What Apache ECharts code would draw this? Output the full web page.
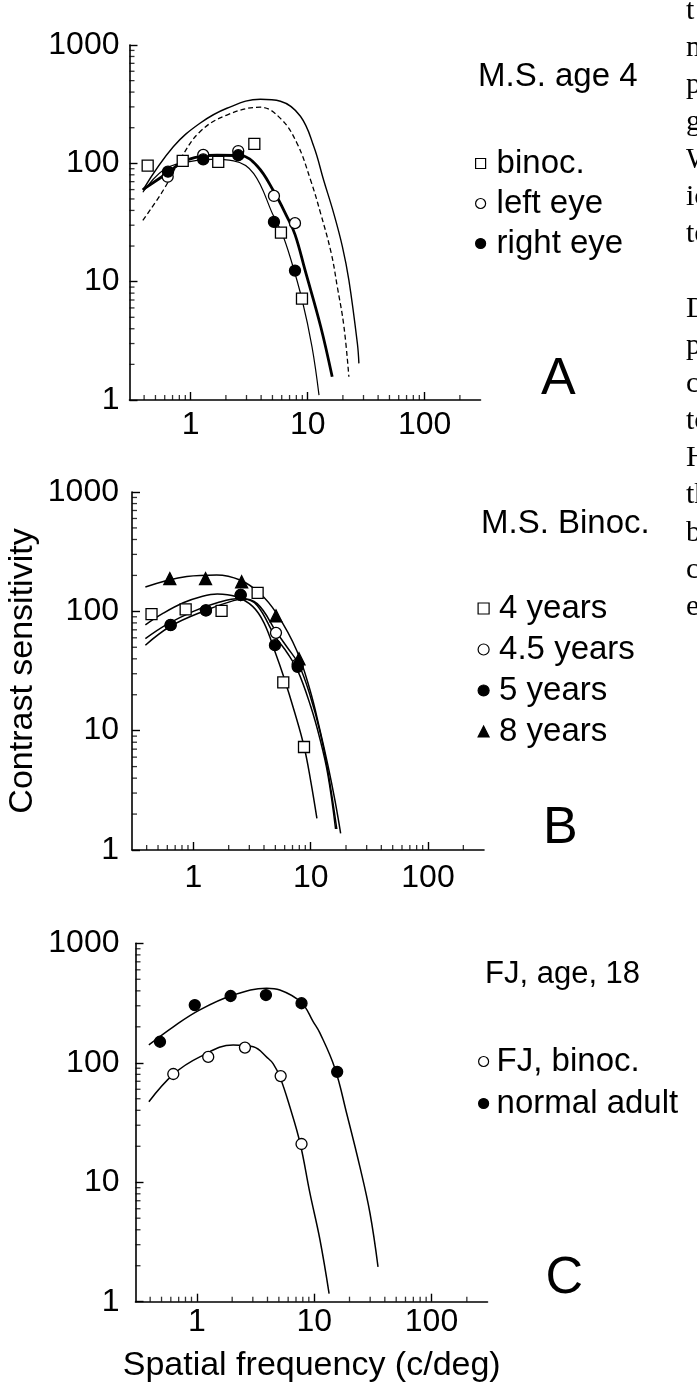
<!DOCTYPE html>
<html>
<head>
<meta charset="utf-8">
<title>Contrast sensitivity</title>
<script src="https://cdn.jsdelivr.net/npm/echarts@6/dist/echarts.min.js"></script>
<style>html,body{margin:0;padding:0;background:#fff;}</style>
</head>
<body>
<div id="main" style="width:697px;height:1391px;"></div>
<script>
// ---- data: [spatial frequency (c/deg), contrast sensitivity] ----
// panel A: M.S. age 4
var aBinoc = [[0.429, 95.6], [0.855, 105], [1.72, 103], [3.5, 146], [5.91, 26], [8.94, 7.2]];
var aLeftEye = [[0.636, 77], [1.28, 118], [2.55, 127], [5.15, 53], [7.79, 31.2]];
var aRightEye = [[0.64, 85], [1.28, 108], [2.55, 117], [5.15, 32], [7.79, 12.4]];
var aFitOuter = [[0.39, 59.5], [0.71, 138], [1.2, 218], [2.04, 292], [3.94, 348], [5.85, 335], [8.67, 250],
  [11.3, 138], [13.7, 72], [16.7, 37.8], [19.8, 19.8], [22.5, 10.3], [26.6, 3.0], [27.4, 2.04]];
var aFitDashed = [[0.39, 33], [0.585, 59.5], [0.81, 107], [1.2, 185], [2.04, 256], [3.94, 298], [5.85, 240],
  [8.1, 148], [10.6, 72], [12.9, 37.8], [15.9, 17.4], [17.9, 9.1], [20.4, 4.2], [22.5, 1.57]];
var aFitThick = [[0.39, 60], [0.625, 82], [0.93, 107], [1.68, 117], [2.66, 116], [3.7, 95], [5.13, 58],
  [6.6, 36], [7.8, 25], [9.5, 12.5], [12.9, 4.2], [16.2, 1.57]];
var aFitThin = [[0.39, 57], [0.585, 88], [0.9, 102], [1.5, 108], [2.33, 105], [3.46, 82], [5.1, 36],
  [6.0, 26], [7.1, 16], [8.97, 7.0], [10.9, 2.8], [12.5, 1.1]];

// panel B: M.S. Binoc.
var b4y = [[0.44, 94.7], [0.86, 104], [1.74, 101], [3.53, 143], [5.84, 25.4], [8.77, 7.3]];
var b45y = [[0.64, 77], [1.28, 102], [2.53, 137], [5.06, 66], [7.74, 36]];
var b5y = [[0.64, 76.6], [1.28, 102], [2.53, 137], [4.96, 52], [7.74, 34.3]];
var b8y = [[0.63, 188], [1.27, 188], [2.58, 177], [5.06, 91.6], [7.95, 40]];
var bFit4 = [[0.39, 77], [0.55, 96], [0.82, 118], [1.2, 134], [1.6, 140], [2.3, 133], [3.2, 110], [4.0, 80],
  [5.0, 45], [5.84, 29], [7.34, 14], [8.8, 7.3], [10, 3.8], [11.3, 1.84]];
var bFit45 = [[0.39, 59], [0.6, 78], [1.0, 100], [1.6, 118], [2.5, 128], [3.5, 116], [5.06, 68], [6.3, 50],
  [7.9, 36], [10, 19], [12, 9.8], [14, 4.6], [16.7, 1.5]];
var bFit5 = [[0.39, 52], [0.64, 75], [1.28, 102], [2.2, 123], [2.7, 126], [3.5, 112], [4.96, 62], [6.3, 45],
  [7.74, 32], [10, 16], [12, 8.5], [14, 4.3], [16.3, 1.5]];
var bFit8 = [[0.39, 160], [0.88, 196], [1.58, 202], [2.5, 183], [3.7, 141], [5.12, 96], [7.6, 47], [9.85, 22],
  [12, 10.1], [14.1, 5.0], [16.1, 2.6], [18, 1.38]];

// panel C: FJ, age 18
var cFJ = [[0.63, 80.5], [1.25, 112], [2.57, 134], [5.18, 77.4], [7.8, 20.9]];
var cNormal = [[0.485, 150], [0.96, 304], [1.94, 362], [3.88, 369], [7.8, 315], [15.7, 84]];
var cFitFJ = [[0.39, 47.2], [0.63, 80], [1.06, 112], [2.04, 141], [3.03, 136], [4.0, 110], [4.48, 98],
  [5.11, 76], [6.2, 42.8], [7.58, 21.3], [9.2, 8.1], [11.2, 3.3], [13.4, 1.17]];
var cFitNormal = [[0.39, 141], [0.63, 200], [1.06, 277], [2.04, 369], [3.93, 420], [5.1, 406], [7.8, 318],
  [9.8, 221], [11.2, 177], [15, 90], [18.9, 37.8], [24.5, 13.5], [29.9, 5.5], [35, 1.96]];

// ticks
var xTickLabels = ['1', '10', '100'];
var yTickLabels = ['1', '10', '100', '1000'];
var xMinorTicks = [0.4, 0.5, 0.6, 0.7, 0.8, 0.9, 2, 3, 4, 5, 6, 7, 8, 9, 20, 30, 40, 50, 60, 70, 80, 90, 200];
var yMinorTicks = [2, 3, 4, 5, 6, 7, 8, 9, 20, 30, 40, 50, 60, 70, 80, 90, 200, 300, 400, 500, 600, 700, 800, 900];

// text beside the figure (cut-off column of the page)
var marginLines = ['t', 'n', 'p', 'g', 'W', 'ic', 'te', '', 'D', 'p', 'c', 'to', 'H', 'th', 'b', 'c', 'e'];

var F = '"Liberation Sans", Arial, Helvetica, sans-serif';
var chart = echarts.init(document.getElementById('main'));

var grids = [
  {left: 129.5, top: 45, width: 351, height: 355},
  {left: 132, top: 492, width: 352, height: 358},
  {left: 135.5, top: 943.3, width: 352, height: 358.4}
];
var xLabelMargin = [9, 12, 4];
var yLabelMargin = [10, 13, 16];

function pickLabel(list) {
  return function (v) {
    var s = String(Math.round(v));
    return list.indexOf(s) >= 0 ? s : '';
  };
}

var xAxes = grids.map(function (g, i) {
  return {
    type: 'log', logBase: 10, gridIndex: i, min: 0.3, max: 300,
    axisLine: {onZero: false, lineStyle: {color: '#000', width: 1.6}},
    axisTick: {inside: true, length: 8, lineStyle: {color: '#000', width: 1.4}},
    axisLabel: {margin: xLabelMargin[i], fontSize: 32, fontFamily: F, color: '#000',
      showMinLabel: false, showMaxLabel: false, formatter: pickLabel(xTickLabels)},
    splitLine: {show: false}
  };
});
var yAxes = grids.map(function (g, i) {
  return {
    type: 'log', logBase: 10, gridIndex: i, min: 1, max: 1000,
    axisLine: {onZero: false, lineStyle: {color: '#000', width: 1.6}},
    axisTick: {inside: true, length: 8, lineStyle: {color: '#000', width: 1.4}},
    axisLabel: {margin: yLabelMargin[i], fontSize: 32, fontFamily: F, color: '#000',
      formatter: pickLabel(yTickLabels)},
    splitLine: {show: false}
  };
});

function curve(name, data, gi, width, dashed) {
  return {
    name: name, type: 'line', xAxisIndex: gi, yAxisIndex: gi, data: data,
    smooth: 0.4, showSymbol: false, symbol: 'none', z: 2, silent: true,
    emphasis: {disabled: true},
    lineStyle: {color: '#000', width: width, type: dashed ? [5, 3] : 'solid'}
  };
}
function points(name, data, gi, symbol, fill, size) {
  return {
    name: name, type: 'scatter', xAxisIndex: gi, yAxisIndex: gi, data: data,
    symbol: symbol, symbolSize: size, z: 3, silent: true, clip: false,
    emphasis: {disabled: true},
    itemStyle: {color: fill, borderColor: '#000', borderWidth: 1.3, opacity: 1}
  };
}
function minorTicks(gi) {
  return [
    {type: 'scatter', xAxisIndex: gi, yAxisIndex: gi, silent: true, clip: false, z: 4,
      data: xMinorTicks.map(function (v) { return [v, 1]; }),
      symbol: 'rect', symbolSize: [1.3, 5], symbolOffset: [0, -2.5],
      itemStyle: {color: '#000'}, emphasis: {disabled: true}},
    {type: 'scatter', xAxisIndex: gi, yAxisIndex: gi, silent: true, clip: false, z: 4,
      data: yMinorTicks.map(function (v) { return [0.3, v]; }),
      symbol: 'rect', symbolSize: [5, 1.3], symbolOffset: [2.5, 0],
      itemStyle: {color: '#000'}, emphasis: {disabled: true}}
  ];
}

var series = [
  curve('fit A outer', aFitOuter, 0, 1.4, false),
  curve('fit A dashed', aFitDashed, 0, 1.3, true),
  curve('fit A thick', aFitThick, 0, 2.8, false),
  curve('fit A thin', aFitThin, 0, 1.2, false),
  points('binoc.', aBinoc, 0, 'rect', '#fff', 11),
  points('left eye', aLeftEye, 0, 'circle', '#fff', 11),
  points('right eye', aRightEye, 0, 'circle', '#000', 11),

  curve('fit B 4', bFit4, 1, 1.5, false),
  curve('fit B 4.5', bFit45, 1, 1.5, false),
  curve('fit B 5', bFit5, 1, 1.5, false),
  curve('fit B 8', bFit8, 1, 1.5, false),
  points('4 years', b4y, 1, 'rect', '#fff', 11),
  points('4.5 years', b45y, 1, 'circle', '#fff', 11),
  points('5 years', b5y, 1, 'circle', '#000', 11),
  points('8 years', b8y, 1, 'triangle', '#000', 12),

  curve('fit C FJ', cFitFJ, 2, 1.5, false),
  curve('fit C normal', cFitNormal, 2, 1.5, false),
  points('FJ, binoc.', cFJ, 2, 'circle', '#fff', 11),
  points('normal adult', cNormal, 2, 'circle', '#000', 11)
].concat(minorTicks(0), minorTicks(1), minorTicks(2));

function legend(names, left, top, icon, gap, pad) {
  return {
    data: names, orient: 'vertical', left: left, top: top, padding: 0,
    itemWidth: icon, itemHeight: icon, itemGap: gap, selectedMode: false,
    itemStyle: {borderColor: '#000', borderWidth: 1.2},
    formatter: function (n) { return '{t|' + n + '}'; },
    textStyle: {rich: {t: {fontSize: 33, fontFamily: F, color: '#000', padding: [0, 0, 0, pad]}}}
  };
}

function label(text, x, y, size) {
  return {type: 'text', x: x, y: y, silent: true,
    style: {text: text, fontSize: size, fontFamily: F, fill: '#000', align: 'left', verticalAlign: 'middle'}};
}

var option = {
  animation: false,
  backgroundColor: '#fff',
  grid: grids.map(function (g) {
    return {left: g.left, top: g.top, width: g.width, height: g.height, outerBoundsMode: 'none', containLabel: false};
  }),
  xAxis: xAxes,
  yAxis: yAxes,
  legend: [
    legend(['binoc.', 'left eye', 'right eye'], 475, 147, 10, 7, 6),
    legend(['4 years', '4.5 years', '5 years', '8 years'], 477.5, 592, 11, 8, 5),
    legend(['FJ, binoc.', 'normal adult'], 478, 1045, 10, 9, 3)
  ],
  graphic: [
    label('M.S. age 4', 478, 76.6, 33),
    label('M.S. Binoc.', 481, 523.6, 33),
    label('FJ, age, 18', 485, 974, 31),
    label('A', 541, 380, 52),
    label('B', 543, 829, 52),
    label('C', 545.5, 1279, 52),
    {type: 'text', x: 23, y: 671, rotation: Math.PI / 2, silent: true,
      style: {text: 'Contrast sensitivity', fontSize: 34, fontFamily: F, fill: '#000', align: 'center', verticalAlign: 'middle'}},
    {type: 'text', x: 311.7, y: 1365.5, silent: true,
      style: {text: 'Spatial frequency (c/deg)', fontSize: 34, fontFamily: F, fill: '#000', align: 'center', verticalAlign: 'middle'}},
    {type: 'text', x: 686, y: -8, silent: true,
      style: {text: marginLines.join('\n'), fontSize: 30, lineHeight: 37.3,
        fontFamily: '"Liberation Serif", "Times New Roman", serif', fill: '#000', align: 'left', verticalAlign: 'top'}}
  ],
  series: series
};

chart.setOption(option);
</script>
</body>
</html>
